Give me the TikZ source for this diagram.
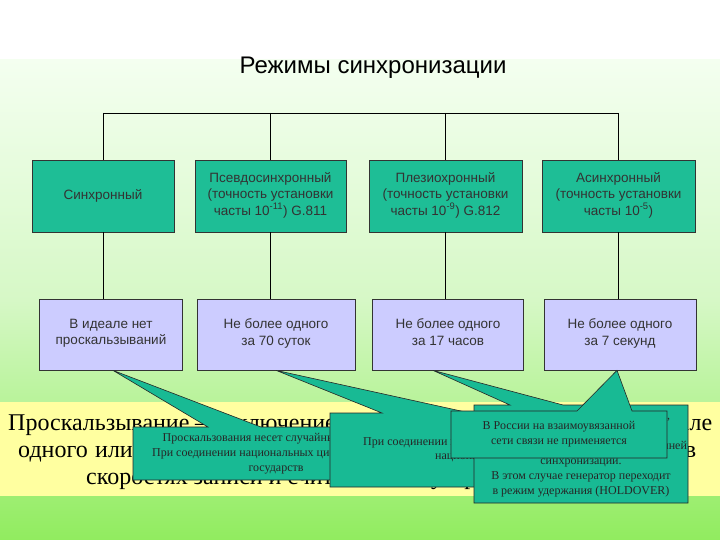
\documentclass[tikz,border=0pt]{standalone}
\usepackage{fontspec}
\setmainfont{Liberation Serif}
\newfontfamily\arialf{Liberation Sans}
\usetikzlibrary{calc}
\definecolor{tealA}{RGB}{30,190,150}
\definecolor{tealB}{RGB}{24,186,148}
\definecolor{lav}{RGB}{204,204,255}
\definecolor{yel}{RGB}{255,255,160}
\definecolor{gA}{RGB}{244,255,240}
\definecolor{gB}{RGB}{214,248,198}
\definecolor{gC}{RGB}{145,236,95}
\begin{document}
\begin{tikzpicture}[x=1pt,y=-1pt,
  modebox/.style={draw=black!80, line width=0.7pt, fill=tealA, minimum height=72pt, inner sep=1pt, align=center, font=\arialf\fontsize{13.5}{16.5}\selectfont, text=black!80, execute at begin node=\strut, execute at end node=\strut},
  slipbox/.style={modebox, fill=lav, minimum height=71pt},
  callout/.style={draw=black!85, line width=0.6pt, fill=tealB},
  calltext/.style={inner sep=0pt, align=center, font=\fontsize{12}{15}\selectfont, text=black!85},
  bigtext/.style={inner sep=0pt, font=\fontsize{24}{27}\selectfont, text=black},
  tree/.style={draw=black, line width=0.9pt}
]
\useasboundingbox (0,0) rectangle (720,540);
\begin{scope}[y=1pt]
  \fill[white] (0,0) rectangle (720,-60);
  \shade[top color=gA, bottom color=gB] (0,-60) rectangle (720,-300);
  \shade[top color=gB, bottom color=gC] (0,-300) rectangle (720,-540);
\end{scope}
\fill[yel] (0,402) rectangle (720,496);

% big text in the yellow band
\node[bigtext, anchor=base west] (s1) at (8,430) {\makebox[704pt][s]{Проскальзывание – исключение или повторение в цифровом сигнале}};
\node[bigtext, anchor=base west] (s2) at (18,457) {\makebox[678pt][s]{одного или нескольких битов информации вследствие разности в}};
\node[bigtext, anchor=base west] (s3) at (86,484) {скоростях записи и считывания в устройствах памяти};

% title
\node[font=\arialf\fontsize{24}{28}\selectfont, inner sep=0pt] (title) at (373,68) {Режимы синхронизации};

% mode boxes
\node[modebox, minimum width=142pt] (t1) at (103,196) {Синхронный};
\node[modebox, minimum width=151pt] (t2) at (270.5,196) {Псевдосинхронный\\(точность установки\\часты 10\textsuperscript{-11}) G.811};
\node[modebox, minimum width=153pt] (t3) at (445.5,196) {Плезиохронный\\(точность установки\\часты 10\textsuperscript{-9}) G.812};
\node[modebox, minimum width=153pt] (t4) at (618.5,196) {Асинхронный\\(точность установки\\часты 10\textsuperscript{-5})};

% slip boxes
\node[slipbox, minimum width=142.5pt] (c1) at (111,334.5) {В идеале нет\\проскальзываний};
\node[slipbox, minimum width=158pt] (c2) at (276,334.5) {Не более одного\\за 70 суток};
\node[slipbox, minimum width=151.5pt] (c3) at (448,334.5) {Не более одного\\за 17 часов};
\node[slipbox, minimum width=152pt] (c4) at (620,334.5) {Не более одного\\за 7 секунд};

% tree
\coordinate (bar) at (0,113);
\draw[tree] (t1.north |- bar) -- (t4.north |- bar);
\foreach \n in {1,2,3,4}{
  \draw[tree] (t\n.north |- bar) -- (t\n.north);
  \draw[tree] (t\n.south) -- (t\n.south |- c\n.north);
}

% callout A
\coordinate (tipA) at ($(c1.south west)+(73.5,0)$);
\draw[callout] (133,427) -- (208,427) -- (tipA) -- (261,427) -- (419,427) -- (419,480) -- (133,480) -- cycle;
\node[calltext] (ta) at (276,453.5) {Проскальзования несет случайный характер\\При соединении национальных цифровых сетей\\государств};

% callout B
\coordinate (tipB) at (c2.south);
\draw[callout] (330,413) -- (382,413) -- (tipB) -- (470,413) -- (650,413) -- (650,487) -- (330,487) -- cycle;
\node[calltext, anchor=west] (tb1) at (363,443) {При соединении цифровых сетей разных стран};
\node[calltext, anchor=west] (tb2) at (435,458) {национальных операторов};

% callout D
\coordinate (tipD) at ($(c3.south west)+(61,0)$);
\draw[callout] (474,405) -- (510,405) -- (tipD) -- (563,405) -- (688,405) -- (688,503) -- (474,503) -- cycle;
\node[calltext] (td) at (581,454.5) {\makebox[178pt][r]{Применяется при аварии,}\\при потере всех опорных\\\makebox[212pt][r]{сигналов от источников внешней}\\синхронизации.\\В этом случае генератор переходит\\в режим удержания (HOLDOVER)};

% callout C
\coordinate (tipC) at ($(c4.south)+(-3,0)$);
\draw[callout] (451,411) -- (577,411) -- (tipC) -- (632,411) -- (667,411) -- (667,458) -- (451,458) -- cycle;
\node[calltext] (tc) at (559,434.5) {В России на взаимоувязанной\\сети связи не применяется};
\end{tikzpicture}
\end{document}
